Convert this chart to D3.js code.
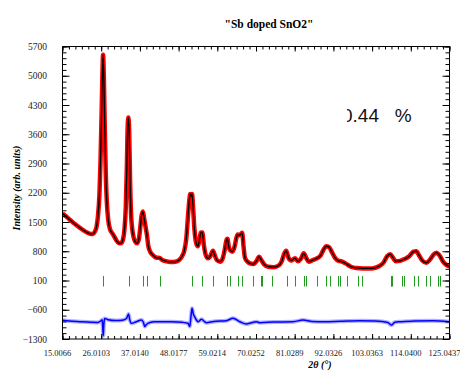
<!DOCTYPE html>
<html>
<head>
<meta charset="utf-8">
<script src="https://cdn.jsdelivr.net/npm/d3@7"></script>
<style>
  body { margin: 0; background: #fff; }
  svg { display: block; }
  .serif { font-family: "Liberation Serif", "Times New Roman", serif; }
</style>
</head>
<body>
<svg id="chart" width="460" height="370"></svg>
<script>
// x tick labels (2theta, degrees) and y tick values
const xTickLabels = ["15.0066", "26.0103", "37.0140", "48.0177", "59.0214", "70.0252",
  "81.0289", "92.0326", "103.0363", "114.0400", "125.0437"];
const yTickValues = [5700, 5000, 4300, 3600, 2900, 2200, 1500, 800, 100, -600, -1300];

// observed / calculated profile [2theta, intensity]
const profile = [
  [15.01, 1700], [16.0, 1640], [17.0, 1560], [18.0, 1490], [19.0, 1420], [20.0, 1360],
  [21.0, 1300], [22.0, 1250], [23.0, 1215], [23.6, 1215], [24.2, 1270], [24.7, 1390],
  [25.1, 1650], [25.5, 2150], [25.8, 2900], [26.1, 4000], [26.35, 5000], [26.55, 5500],
  [26.75, 5000], [27.0, 3900], [27.3, 2700], [27.6, 2000], [28.0, 1560], [28.5, 1330],
  [29.4, 1200], [30.2, 1080], [31.0, 995], [31.6, 990], [32.2, 1080], [32.6, 1300],
  [33.0, 1850], [33.3, 2800], [33.55, 3800], [33.75, 4000], [33.95, 3700], [34.2, 2600],
  [34.5, 1700], [35.0, 1230], [35.6, 1040], [36.2, 990], [36.7, 1080], [37.1, 1350],
  [37.5, 1650], [37.85, 1750], [38.2, 1600], [38.6, 1400], [39.0, 1200], [39.4, 930],
  [40.0, 780], [40.8, 700], [41.6, 650], [42.6, 640], [43.4, 590], [44.5, 560],
  [45.5, 545], [46.5, 545], [47.5, 560], [48.3, 600], [49.0, 680], [49.6, 800],
  [50.2, 1100], [50.7, 1650], [51.1, 2050], [51.35, 2170], [51.6, 2120], [51.85, 2170],
  [52.1, 1900], [52.5, 1350], [53.0, 1000], [53.5, 920], [53.9, 1050], [54.4, 1250],
  [54.75, 1250], [55.2, 950], [55.7, 720], [56.4, 630], [57.0, 680], [57.8, 810],
  [58.4, 680], [59.0, 580], [59.8, 550], [60.5, 620], [61.1, 820], [61.6, 1060],
  [61.9, 1100], [62.3, 900], [62.7, 820], [63.3, 790], [63.9, 900], [64.4, 1100],
  [64.8, 1200], [65.3, 1180], [65.8, 1220], [66.1, 1240], [66.5, 900], [66.9, 640],
  [67.5, 560], [68.3, 510], [69.3, 495], [70.2, 570], [70.9, 670], [71.6, 580],
  [72.3, 490], [73.5, 430], [75.0, 420], [76.3, 450], [77.3, 550], [78.0, 730],
  [78.6, 810], [79.3, 640], [80.0, 580], [81.1, 630], [82.0, 560], [82.8, 620],
  [83.6, 750], [84.3, 640], [85.0, 550], [86.2, 590], [87.3, 630], [88.4, 700],
  [89.3, 850], [90.0, 920], [90.8, 900], [91.6, 780], [92.5, 640], [93.5, 570],
  [94.2, 560], [95.5, 510], [97.0, 430], [98.5, 400], [100.5, 390], [103.0, 390],
  [105.0, 440], [106.3, 530], [107.3, 680], [108.2, 730], [109.0, 640], [109.8, 560],
  [111.0, 570], [112.4, 620], [113.6, 680], [114.8, 790], [115.6, 800], [116.4, 700],
  [117.3, 580], [118.5, 525], [119.5, 600], [120.5, 720], [121.3, 765], [122.2, 700],
  [123.2, 550], [124.2, 470], [125.04, 440]
];

// difference curve (obs - calc, offset) [2theta, intensity]
const difference = [
  [15.01, -850], [17, -870], [20, -886], [23, -900], [25, -905], [26.0, -860], [26.3, -840],
  [26.5, -1100], [26.6, -1220], [26.75, -960], [27.0, -810], [28, -840], [30, -860],
  [32, -850], [33.2, -810], [33.8, -700], [34.1, -830], [34.6, -925], [36, -886],
  [37.45, -846], [38.0, -900], [38.4, -1000], [38.8, -960], [39.4, -920], [41, -890],
  [43, -885], [46, -886], [49, -900], [50.7, -925], [51.2, -1000], [51.55, -750],
  [51.85, -566], [52.2, -700], [52.6, -770], [53.6, -886], [54.5, -830], [55.9, -910],
  [58, -880], [61.6, -862], [63.5, -806], [65.4, -886], [67.3, -940], [70.2, -886],
  [71.1, -910], [75, -895], [80.6, -886], [83.4, -846], [86, -880], [89.4, -886],
  [94, -875], [99.5, -862], [104, -870], [107.5, -905], [108.5, -965], [109.5, -900],
  [110.9, -886], [115, -870], [120.4, -862], [124.9, -886]
];

// Bragg reflection positions (2theta)
const reflections = [26.59, 33.88, 37.96, 38.98, 42.65, 51.78, 54.77, 57.84, 61.90, 62.62,
  64.78, 65.98, 69.26, 71.33, 71.80, 74.45, 78.72, 81.16, 83.74, 84.22, 87.24, 89.82,
  90.94, 93.30, 93.96, 96.03, 99.08, 100.06, 108.3, 108.46, 108.8, 111.5, 112.04,
  114.82, 116.06, 118.4, 119.5, 121.7, 121.9, 122.3];
const reflectionLevel = 100;

const plotLeft = 62.5, plotRight = 449.5, plotTop = 46.5, plotBottom = 339;
const svg = d3.select('#chart');

const x = d3.scaleLinear().domain([15.0066, 125.0437]).range([plotLeft, plotRight]);
const y = d3.scaleLinear().domain([-1300, 5700]).range([plotBottom, plotTop]);

const xMajor = xTickLabels.map(Number);
const xStep = (xMajor[xMajor.length - 1] - xMajor[0]) / 10;
const xMinor = d3.range(0, 61).map(i => xMajor[0] + i * xStep / 6);
const yMinor = d3.range(-1300, 5701, 140);

svg.append('clipPath').attr('id', 'plot')
  .append('rect').attr('x', plotLeft).attr('y', plotTop)
  .attr('width', plotRight - plotLeft).attr('height', plotBottom - plotTop);

const plot = svg.append('g').attr('clip-path', 'url(#plot)');

const line = d3.line()
  .x(d => x(d[0]))
  .y(d => y(d[1]))
  .curve(d3.curveMonotoneX);

// observed (red)
plot.append('path').datum(profile)
  .attr('d', line)
  .attr('fill', 'none')
  .attr('stroke', '#ff0000')
  .attr('stroke-width', 4.5)
  .attr('stroke-linejoin', 'round');

// calculated (black)
plot.append('path').datum(profile)
  .attr('d', line)
  .attr('fill', 'none')
  .attr('stroke', '#000')
  .attr('stroke-width', 1.3);

// reflection ticks (green)
plot.selectAll('line.refl')
  .data(reflections)
  .enter()
  .append('line')
  .attr('class', 'refl')
  .attr('x1', d => Math.round(x(d)) + 0.5)
  .attr('x2', d => Math.round(x(d)) + 0.5)
  .attr('y1', y(reflectionLevel) - 4.5)
  .attr('y2', y(reflectionLevel) + 6)
  .attr('stroke', '#229922')
  .attr('stroke-width', 1);

// difference (blue)
plot.append('path').datum(difference)
  .attr('d', line)
  .attr('fill', 'none')
  .attr('stroke', '#6060ff')
  .attr('stroke-opacity', 0.5)
  .attr('stroke-width', 4);

plot.append('path').datum(difference)
  .attr('d', line)
  .attr('fill', 'none')
  .attr('stroke', '#0000ff')
  .attr('stroke-width', 1.5);

// axes
function styleAxis(g) {
  g.attr('font-family', null);
  g.select('.domain').remove();
  g.selectAll('line').attr('stroke', '#000');
  g.selectAll('text').attr('class', 'serif').attr('fill', '#222');
}

svg.append('g')
  .attr('transform', `translate(0,${plotBottom})`)
  .call(d3.axisBottom(x).tickValues(xMinor).tickSize(-3).tickFormat(''))
  .call(styleAxis);

svg.append('g')
  .attr('transform', `translate(0,${plotBottom})`)
  .call(d3.axisBottom(x).tickValues(xMajor).tickSize(-5).tickPadding(11)
    .tickFormat((d, i) => xTickLabels[i]))
  .call(styleAxis)
  .call(g => g.selectAll('text').attr('font-size', 8.5).attr('dx', -5.5));

svg.append('g')
  .attr('transform', `translate(0,${plotTop})`)
  .call(d3.axisTop(x).tickValues(xMinor).tickSize(-3).tickFormat(''))
  .call(styleAxis);

svg.append('g')
  .attr('transform', `translate(0,${plotTop})`)
  .call(d3.axisTop(x).tickValues(xMajor).tickSize(-5).tickFormat(''))
  .call(styleAxis);

svg.append('g')
  .attr('transform', `translate(${plotLeft},0)`)
  .call(d3.axisLeft(y).tickValues(yMinor).tickSize(-4).tickFormat(''))
  .call(styleAxis);

svg.append('g')
  .attr('transform', `translate(${plotLeft},0)`)
  .call(d3.axisLeft(y).tickValues(yTickValues).tickSize(-7).tickPadding(15.5)
    .tickFormat(d3.format('d')))
  .call(styleAxis)
  .call(g => g.selectAll('text').attr('font-size', 9.5));

svg.append('g')
  .attr('transform', `translate(${plotRight},0)`)
  .call(d3.axisRight(y).tickValues(yMinor).tickSize(-4).tickFormat(''))
  .call(styleAxis);

svg.append('g')
  .attr('transform', `translate(${plotRight},0)`)
  .call(d3.axisRight(y).tickValues(yTickValues).tickSize(-7).tickFormat(''))
  .call(styleAxis);

// frame
svg.append('rect')
  .attr('x', plotLeft).attr('y', plotTop)
  .attr('width', plotRight - plotLeft).attr('height', plotBottom - plotTop)
  .attr('fill', 'none')
  .attr('stroke', '#000')
  .attr('stroke-width', 1);

// title and axis titles
svg.append('text')
  .attr('class', 'serif')
  .attr('x', 269).attr('y', 28)
  .attr('text-anchor', 'middle')
  .attr('font-weight', 'bold')
  .attr('font-size', 11.5)
  .text('"Sb doped SnO2"');

svg.append('text')
  .attr('class', 'serif')
  .attr('transform', 'translate(20,188) rotate(-90)')
  .attr('text-anchor', 'middle')
  .attr('font-weight', 'bold')
  .attr('font-style', 'italic')
  .attr('font-size', 10)
  .text('Intensity (arb. units)');

svg.append('text')
  .attr('class', 'serif')
  .attr('x', 320).attr('y', 368)
  .attr('text-anchor', 'middle')
  .attr('font-weight', 'bold')
  .attr('font-style', 'italic')
  .attr('font-size', 10)
  .text('2θ (°)');

// partially hidden R-factor label
svg.append('clipPath').attr('id', 'rclip')
  .append('rect').attr('x', 347).attr('y', 90).attr('width', 100).attr('height', 40);

svg.append('text')
  .attr('clip-path', 'url(#rclip)')
  .attr('x', 342).attr('y', 122)
  .attr('font-family', '"Liberation Sans", Arial, sans-serif')
  .attr('font-size', 19)
  .attr('fill', '#111')
  .style('white-space', 'pre')
  .text('0.44   %');
</script>
</body>
</html>
